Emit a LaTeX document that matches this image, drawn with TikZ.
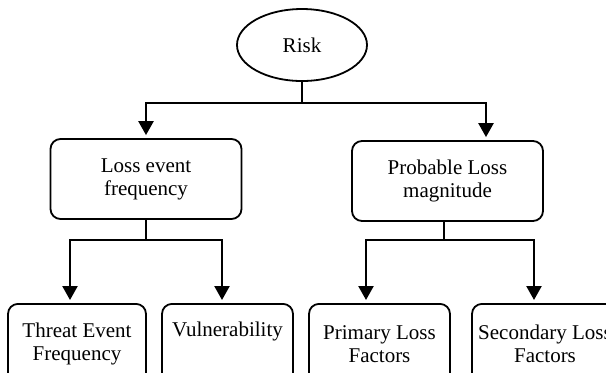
\documentclass[tikz,border=0pt]{standalone}
\usepackage{fontspec}
\setmainfont{Liberation Serif}
\usetikzlibrary{calc,arrows.meta}
\usetikzlibrary{positioning, shapes.geometric}

\begin{document}
\begin{tikzpicture}[
    x=0.5pt, y=-0.5pt,
    font=\fontsize{10.5}{11.5}\selectfont,
    box style/.style={draw, rounded corners=5pt, line width=0.9pt, align=center,
        minimum height=40pt, inner sep=1pt},
    risk style/.style={ellipse, draw, line width=0.9pt, minimum width=65pt, minimum height=36pt},
    link/.style={line width=1.2pt},
    arrow/.style={link, -{Triangle[width=7.5pt,length=7pt]}, shorten >=1.5pt}
]

% SAME BOUNDING BOX
\clip (0,0) rectangle (606,372);

\node[risk style] (R) at (302,45) {Risk};
\node[box style, minimum width=95.5pt] (L) at (146,179) {Loss event\\frequency};
\node[box style, minimum width=95.5pt] (P) at (447.5,181) {Probable Loss\\magnitude};

\node[box style, minimum width=69pt, anchor=north] (T) at (77,303) {Threat Event\\Frequency};
\node[box style, minimum width=65.5pt, anchor=north] (V) at (227.5,303) {Vulnerability\\\strut};
\node[box style, minimum width=70.5pt, anchor=north] (PF) at (379.5,303) {Primary Loss\\Factors};
\node[box style, minimum width=73pt, anchor=north] (SF) at (545,303) {Secondary Loss\\Factors};

% BUSES
\coordinate (top bus) at (302,103);
\coordinate (left bus) at (146,240);
\coordinate (right bus) at (444,240);

\draw[link] (R) -- (top bus);
\draw[arrow] (top bus) -| (L.north);
\draw[arrow] (top bus) -| ($(P.north)+(38.5,0)$);

\draw[link] (L.south) -- (left bus);
\draw[arrow] (left bus) -| ($(T.north)+(-7,0)$);
\draw[arrow] (left bus) -| ($(V.north)+(-5.5,0)$);

\draw[link] (right bus |- P.south) -- (right bus);
\draw[arrow] (right bus) -| ($(PF.north)+(-13.5,0)$);
\draw[arrow] (right bus) -| ($(SF.north)+(-11,0)$);

\end{tikzpicture}
\end{document}
